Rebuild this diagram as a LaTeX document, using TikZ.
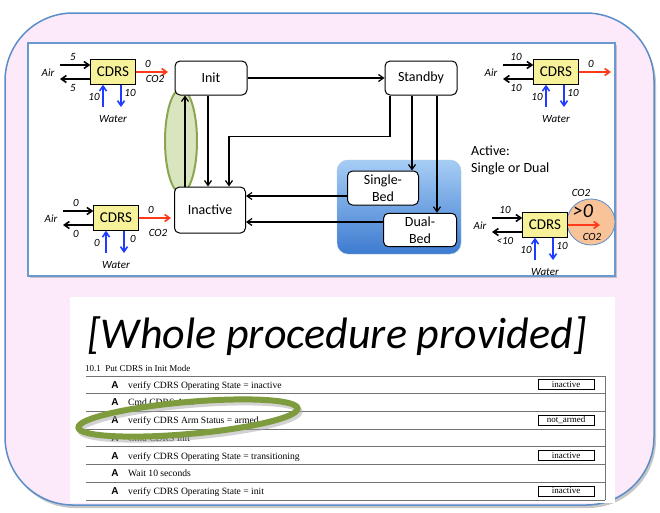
\documentclass[tikz,border=0pt]{standalone}
\usepackage{fontspec}
\setmainfont{Carlito}
\newfontfamily\tablefont{Liberation Serif}
\newfontfamily\markfont{Liberation Sans}
\usetikzlibrary{positioning}
\usetikzlibrary{arrows.meta}
\usetikzlibrary{shadows}

\definecolor{framepink}{HTML}{FCE9F9}
\definecolor{frameblue}{HTML}{5B8DC9}
\definecolor{cdrsyellow}{HTML}{F7F29A}
\definecolor{co2red}{HTML}{FF3A1A}
\definecolor{waterblue}{HTML}{1E3CFF}
\definecolor{olivering}{HTML}{7E9C3E}
\definecolor{palegreen}{HTML}{D9E5BF}
\definecolor{peach}{HTML}{F9C39A}
\definecolor{activetop}{HTML}{A6CDF5}
\definecolor{activebottom}{HTML}{3D7BD0}

\begin{document}
\begin{tikzpicture}[
    x=1pt, y=-1pt,
    >={Straight Barb[length=5pt,width=7pt]},
    state/.style={
      rectangle,
      rounded corners=5pt,
      draw,
      fill=white,
      line width=1pt,
      minimum width=72pt,
      minimum height=34pt,
      align=center,
      font=\fontsize{14}{17}\selectfont
    },
    cdrs/.style={
      rectangle,
      draw,
      fill=cdrsyellow,
      minimum width=45pt,
      minimum height=25pt,
      font=\fontsize{15}{15}\selectfont
    },
    flow/.style={font=\fontsize{11}{11}\selectfont\itshape, inner sep=1pt},
    stub/.style={line width=1.6pt},
    link/.style={->, line width=1.2pt},
    tabletext/.style={font=\tablefont\fontsize{9.6}{9.6}\selectfont, inner sep=0pt},
    valbox/.style={
      draw,
      line width=0.8pt,
      minimum width=56pt,
      minimum height=10pt,
      inner sep=0pt,
      font=\tablefont\fontsize{9}{9}\selectfont
    },
    rowline/.style={draw=black!55, line width=0.8pt},
    ]

    \useasboundingbox (0,0) rectangle (660,512);

    % pink frame and the two white panels
    \path[fill=framepink, draw=frameblue, line width=1.5pt, rounded corners=68pt,
      drop shadow={shadow xshift=2pt, shadow yshift=-3pt, opacity=0.45}]
      (5,13) rectangle (654,505);
    \path[fill=white, draw=frameblue!90, line width=1.3pt,
      drop shadow={shadow xshift=2pt, shadow yshift=-2pt, opacity=0.4}]
      (28,43) rectangle (615,276);
    \path[fill=white] (70,297) rectangle (615,503);

    % state diagram
    \draw[fill=palegreen, draw=olivering!90, line width=2pt]
      (181,141) ellipse [x radius=16, y radius=52];
    \node[rectangle, rounded corners=11pt, draw=frameblue!50,
      top color=activetop, bottom color=activebottom,
      minimum width=124pt, minimum height=94pt] (active) at (399,207) {};

    \node[state] (init) at (211,78) {Init};
    \node[state, right=137pt of init] (standby) {Standby};
    \node[state, minimum height=46pt, minimum width=71pt] (inactive) at (210,210) {Inactive};
    \node[state, minimum width=71pt] (single) at (383,188) {Single-\\Bed};
    \node[state, minimum width=73pt, minimum height=33pt] (dual) at (420,230) {Dual-\\Bed};

    \draw[link] (init) -- (standby);
    \draw[link] ([xshift=-25pt]inactive.north) -- ([xshift=-25pt]inactive.north |- init.south);
    \draw[link] ([xshift=-3pt]init.south) -- ([xshift=-3pt]init.south |- inactive.north);
    \draw[link] ([xshift=-31pt]standby.south) -- ++(0,41) -| ([xshift=19pt]inactive.north);
    \draw[link] ([xshift=-9pt]standby.south) -- ([xshift=-9pt]standby.south |- single.north);
    \draw[link] ([xshift=16pt]standby.south) -- ([xshift=16pt]standby.south |- dual.north);
    \draw[link] ([yshift=-8pt]single.west) -- ([yshift=-8pt]single.west -| inactive.east);
    \draw[link] ([yshift=8pt]dual.west) -- ([yshift=8pt]dual.west -| inactive.east);

    \node[anchor=north west, align=left, inner sep=0pt,
      font=\fontsize{14}{17}\selectfont] (activenote) at (471,146) {Active:\\Single or Dual};

    % CO2 bubble of the active unit
    \draw[fill=peach, draw=frameblue, line width=0.8pt]
      (591,222) ellipse [x radius=24, y radius=23];

    % the four CDRS units with their flows
    \foreach \n/\cx/\cy/\ain/\aout/\win/\wout/\cval in
      {1/113/72/5/5/10/10/0, 2/116/218/0/0/0/0/0, 3/556/72/10/10/10/10/0, 4/545/225/10/{<10}/10/10/{}}{
      \node[cdrs] (cdrs\n) at (\cx,\cy) {CDRS};
      \coordinate (airin\n) at (\cx-53,\cy-7);
      \coordinate (airout\n) at (\cx-53,\cy+7);
      \coordinate (coout\n) at (\cx+55,\cy);
      \coordinate (wtin\n) at (\cx-10,\cy+35);
      \coordinate (wtout\n) at (\cx+8,\cy+35);
      \draw[stub, ->] (airin\n) -- (airin\n -| cdrs\n.west);
      \draw[stub, ->] (airout\n -| cdrs\n.west) -- (airout\n);
      \draw[stub, ->, co2red] (cdrs\n.east) -- (coout\n);
      \draw[stub, ->, waterblue] (wtin\n) -- (wtin\n |- cdrs\n.south);
      \draw[stub, ->, waterblue] (wtout\n |- cdrs\n.south) -- (wtout\n);
      \node[flow] (airlbl\n) at (\cx-65,\cy+1) {Air};
      \node[flow] (ainlbl\n) at (\cx-40,\cy-15) {\ain};
      \node[flow] (aoutlbl\n) at (\cx-40,\cy+16) {\aout};
      \node[flow] (winlbl\n) at (\cx-19,\cy+25) {\win};
      \node[flow] (woutlbl\n) at (\cx+17,\cy+21) {\wout};
      \node[flow] (waterlbl\n) at (\cx,\cy+47) {Water};
      \ifx\cval\empty\else
        \node[flow] (colbl\n) at (\cx+35,\cy-8) {\cval};
      \fi
    }
    \node[flow] (co2lbl1) at (155,79) {CO2};
    \node[flow] (co2lbl2) at (158,233) {CO2};
    \node[flow] (co2top) at (581,193) {CO2};
    \node[flow] (co2in) at (592,237) {CO2};
    \node[font=\fontsize{20}{20}\selectfont\itshape, inner sep=0pt] (gtzero) at (583,211) {>0};

    % procedure excerpt
    \node[font=\fontsize{44}{44}\selectfont\itshape] (title) at (337,336) {[Whole procedure provided]};
    \node[tabletext, anchor=base west, font=\tablefont\fontsize{9}{9}\selectfont]
      (heading) at (85,371) {10.1\ \ Put CDRS in Init Mode};

    \foreach \i in {0,...,7}
      \draw[rowline] (86,376+17.7*\i) -- (605,376+17.7*\i);
    \draw[rowline] (605,376) -- (605,500);

    \foreach \txt [count=\i] in {verify CDRS Operating State = inactive, Cmd CDRS Arm,
      verify CDRS Arm Status = armed, Cmd CDRS Init,
      verify CDRS Operating State = transitioning, Wait 10 seconds,
      verify CDRS Operating State = init}{
      \node[tabletext, anchor=base west] (step\i) at (128,376+17.7*\i-5.5) {\txt};
      \node[tabletext, anchor=base, font=\markfont\bfseries\fontsize{10}{10}\selectfont]
        (mark\i) at (115,376+17.7*\i-5.5) {A};
    }
    \foreach \i/\v in {1/inactive, 3/not\_armed, 5/inactive, 7/inactive}
      \node[valbox] (value\i) at (566,376+17.7*\i-9) {\v};

    % ring round the arm check
    \draw[black!35, line width=6pt, opacity=0.5, rotate around={5:(190,421)}]
      (190,421) ellipse [x radius=110, y radius=16];
    \draw[olivering, line width=6pt, rotate around={5:(188,418)}]
      (188,418) ellipse [x radius=110, y radius=16];
  \end{tikzpicture}
\end{document}
